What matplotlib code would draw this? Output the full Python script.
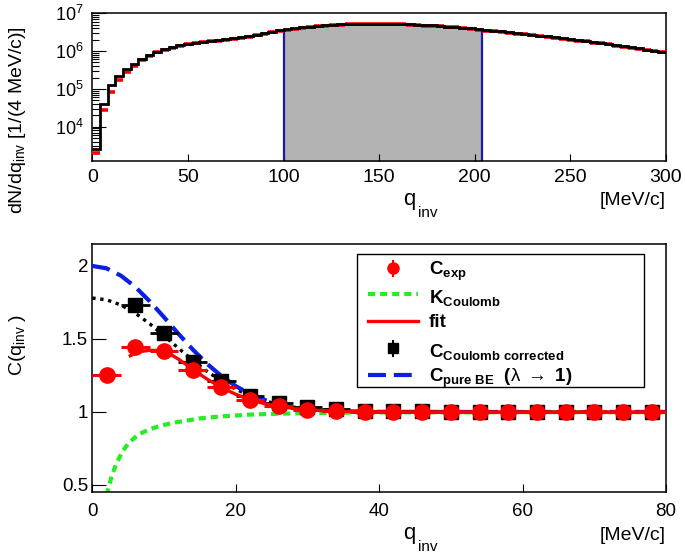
import numpy as np
import matplotlib
matplotlib.use('Agg')
import matplotlib.pyplot as plt
from matplotlib.patches import Rectangle

plt.rcParams['font.family'] = ['Liberation Sans', 'DejaVu Sans']
plt.rcParams['mathtext.fontset'] = 'custom'
plt.rcParams['mathtext.rm'] = 'Liberation Sans'
plt.rcParams['mathtext.it'] = 'Liberation Sans:italic'
plt.rcParams['mathtext.bf'] = 'Liberation Sans:bold'

# ---------------- top panel data: dN/dq_inv, 4 MeV/c bins ----------------
bin_edges = np.arange(0, 304, 4)
log_counts_data = [3.40, 4.60, 5.10, 5.35, 5.52, 5.66, 5.78, 5.89, 5.98, 6.05,
                   6.10, 6.15, 6.20, 6.22, 6.25, 6.27, 6.29, 6.31, 6.34,
                   6.37, 6.40, 6.43, 6.47, 6.51, 6.55, 6.58, 6.61, 6.63, 6.65,
                   6.67, 6.69, 6.70, 6.71, 6.72, 6.725, 6.73, 6.73, 6.73, 6.73,
                   6.725, 6.72, 6.71, 6.70, 6.69, 6.68, 6.67, 6.65, 6.64, 6.62,
                   6.60, 6.58, 6.56, 6.54, 6.52, 6.50, 6.48, 6.46, 6.43, 6.41,
                   6.39, 6.37, 6.34, 6.32, 6.29, 6.27, 6.24, 6.22, 6.19, 6.16,
                   6.13, 6.10, 6.07, 6.04, 6.01, 5.98]
log_counts_red = [3.30, 4.44, 4.93, 5.24, 5.45, 5.61, 5.765, 5.875, 5.965, 6.035,
                  6.085, 6.135, 6.185, 6.205, 6.235, 6.255, 6.275, 6.295, 6.325,
                  6.355, 6.385, 6.415, 6.455, 6.495, 6.535, 6.565, 6.595, 6.615, 6.635,
                  6.655, 6.675, 6.685, 6.695, 6.705, 6.71, 6.715, 6.715, 6.715, 6.715,
                  6.71, 6.705, 6.695, 6.685, 6.675, 6.665, 6.655, 6.635, 6.625, 6.605,
                  6.585, 6.565, 6.545, 6.525, 6.505, 6.485, 6.465, 6.445, 6.415, 6.395,
                  6.375, 6.355, 6.325, 6.305, 6.275, 6.255, 6.225, 6.205, 6.175, 6.145,
                  6.115, 6.085, 6.055, 6.025, 5.995, 5.965]
band_range = (100, 204)

# ---------------- bottom panel data ----------------
q_exp = np.arange(2, 80, 4)
c_exp = [1.254, 1.448, 1.415, 1.289, 1.170, 1.084, 1.038, 1.014, 1.004, 1.001,
         1.000, 0.999, 1.000, 1.000, 0.999, 1.000, 1.000, 0.999, 1.000, 1.000]
q_corr = np.arange(6, 80, 4)
c_corr = [1.732, 1.539, 1.345, 1.209, 1.106, 1.061, 1.036, 1.020, 1.010, 1.006,
          1.004, 1.002, 1.002, 1.001, 1.001, 1.000, 1.000, 1.000, 1.000]

q_k = [2.0, 2.2, 2.7, 3.3, 4.1, 5.0, 6.4, 8.0, 9.7, 11.5, 13.4, 15.0, 18.0,
       22.0, 26.0, 30.0, 35.0, 40.0, 50.0, 60.0, 80.0]
k_coulomb = [0.43, 0.47, 0.56, 0.64, 0.72, 0.785, 0.845, 0.882, 0.908, 0.928,
             0.943, 0.956, 0.970, 0.982, 0.988, 0.992, 0.995, 0.997, 0.998,
             0.999, 1.000]

q_fit = [5.3, 6, 7, 8, 9, 10, 11, 12, 13, 14, 16, 18, 20, 22, 24, 26, 28, 30,
         32, 34, 36, 40, 50, 80]
c_fit = [1.385, 1.403, 1.416, 1.422, 1.421, 1.414, 1.392, 1.362, 1.328, 1.292,
         1.225, 1.168, 1.121, 1.084, 1.057, 1.038, 1.024, 1.015, 1.009, 1.005,
         1.003, 1.001, 1.000, 1.000]

q_curve = [0, 2, 4, 6, 8, 10, 12, 14, 16, 18, 20, 22, 24, 26, 28, 30, 32, 34,
           36, 40, 50, 80]
c_corr_fit = [1.780, 1.768, 1.732, 1.676, 1.604, 1.522, 1.437, 1.354, 1.278,
              1.211, 1.156, 1.111, 1.077, 1.051, 1.033, 1.020, 1.012, 1.007,
              1.004, 1.001, 1.000, 1.000]
c_pure_be = [2.000, 1.983, 1.933, 1.856, 1.758, 1.649, 1.536, 1.428, 1.330,
             1.246, 1.177, 1.123, 1.083, 1.054, 1.034, 1.020, 1.012, 1.007,
             1.004, 1.001, 1.000, 1.000]

# ---------------- figure ----------------
W, H = 685, 556
fig = plt.figure(figsize=(W / 100, H / 100), dpi=100)


def rect(l, t, r, b):
    return [l / W, 1 - b / H, (r - l) / W, (b - t) / H]


ax1 = fig.add_axes(rect(92.3, 13.3, 666, 161))
ax2 = fig.add_axes(rect(92.3, 244, 666, 492))

counts = 10 ** np.array(log_counts_data)
counts_red = 10 ** np.array(log_counts_red)
ymin_top = 1.24e3

# shaded band
i0 = int(np.searchsorted(bin_edges, band_range[0]))
i1 = int(np.searchsorted(bin_edges, band_range[1]))
xb = bin_edges[i0:i1 + 1]
yb = np.append(counts[i0:i1], counts[i1 - 1])
ax1.fill_between(xb, yb, 1e2, step='post', color='#b3b3b3', lw=0, zorder=1)
ax1.vlines([band_range[0], band_range[1]], 1e2,
           [max(counts[i0], counts[i0 - 1]), max(counts[i1 - 1], counts[i1])],
           color='#1a1aa6', lw=1.6, zorder=2)
ax1.hlines(counts_red, bin_edges[:-1], bin_edges[1:], color='#ff0000', lw=2.6,
           zorder=3)
ax1.stairs(counts, bin_edges, baseline=None, color='black', lw=2.0, zorder=4)
ax1.set_yscale('log')
ax1.set_xlim(0, 300)
ax1.set_ylim(ymin_top, 1e7)
ax1.set_xticks([0, 50, 100, 150, 200, 250, 300])
ax1.tick_params(axis='both', which='both', direction='in', top=False,
                right=False, width=0.8)
ax1.tick_params(axis='y', which='major', length=10, labelsize=13, pad=6)
ax1.tick_params(axis='y', which='minor', length=5)
ax1.tick_params(axis='x', which='major', length=5, labelsize=14, pad=6)

# bottom panel
ax2.plot(q_k, k_coulomb, color='#22ee22', lw=3.0, dashes=(1.7, 1.2), zorder=2)
ax2.plot(q_curve, c_corr_fit, color='black', lw=2.4, dashes=(1.0, 1.4), zorder=3)
ax2.plot(q_curve, c_pure_be, color='#0a1ee6', lw=3.0, dashes=(4.3, 1.9), zorder=3)
ax2.errorbar(q_corr, c_corr, xerr=2, fmt='s', color='black', ms=9.5,
             elinewidth=2.0, capsize=0, zorder=4)
ax2.plot(q_fit, c_fit, color='#ff0000', lw=2.4, zorder=5)
ax2.errorbar(q_exp, c_exp, xerr=2, fmt='o', color='#ff0000', ms=11,
             elinewidth=2.2, capsize=0, zorder=6)
ax2.set_xlim(0, 80)
ax2.set_ylim(0.452, 2.15)
ax2.set_xticks([0, 20, 40, 60, 80])
ax2.set_yticks([0.5, 1, 1.5, 2])
ax2.set_yticklabels(['0.5', '1', '1.5', '2'])
ax2.tick_params(axis='both', direction='in', top=False, right=False, width=0.8,
                labelsize=13.5)
ax2.tick_params(axis='y', length=10, pad=3)
ax2.tick_params(axis='x', length=6, pad=8)

for ax in (ax1, ax2):
    for s in ax.spines.values():
        s.set_linewidth(1.1)

# legend (drawn by hand to mimic ROOT TLegend)
T = ax2.transAxes


def fx(px):
    return (px - 92.3) / 573.5


def fy(py):
    return (492 - py) / 248


ax2.add_patch(Rectangle((fx(357), fy(387)), fx(644) - fx(357), fy(254) - fy(387),
                        transform=T, fill=True, facecolor='white',
                        edgecolor='black', lw=1.0, zorder=10))
hx0, hx1, hxc = fx(368), fx(418), fx(393)
ax2.plot([hxc], [fy(268.3)], 'o', color='#ff0000', ms=8, transform=T, zorder=11)
ax2.plot([hxc, hxc], [fy(261), fy(276)], color='#ff0000', lw=1.5, transform=T, zorder=11)
ax2.plot([hx0, hx1], [fy(294)] * 2, color='#22ee22', lw=3.0, dashes=(1.7, 1.2),
         transform=T, zorder=11)
ax2.plot([hx0, hx1], [fy(320.7)] * 2, color='#ff0000', lw=2.4, transform=T, zorder=11)
ax2.plot([hxc], [fy(348.3)], 's', color='black', ms=7, transform=T, zorder=11)
ax2.plot([hxc, hxc], [fy(341), fy(356)], color='black', lw=1.5, transform=T, zorder=11)
ax2.plot([hx0, hx1], [fy(375)] * 2, color='#0a1ee6', lw=3.0, dashes=(4.3, 1.9),
         transform=T, zorder=11)

tx = fx(429)
lkw = dict(transform=T, fontsize=13.5, fontweight='bold', va='baseline',
           ha='left', zorder=12)
ax2.text(tx, fy(275), r'$\mathbf{C}_{\mathbf{exp}}$', **lkw)
ax2.text(tx, fy(303.3), r'$\mathbf{K}_{\mathbf{Coulomb}}$', **lkw)
ax2.text(tx, fy(327.3), 'fit', **lkw)
ax2.text(tx, fy(357.3), r'$\mathbf{C}_{\mathbf{Coulomb\ corrected}}$', **lkw)
ax2.text(tx, fy(381.7), r'$\mathbf{C}_{\mathbf{pure\ BE}}$  ($\mathrm{\lambda}\ \rightarrow$ 1)', **lkw)

# axis titles
fig.text(18 / W, 1 - 120 / H, r'dN/dq$_{\mathrm{inv}}$ [1/(4 MeV/c)]', rotation=90,
         ha='center', va='center', fontsize=14)
fig.text(18 / W, 1 - 345 / H, r'C(q$_{\mathrm{inv}}$ )', rotation=90,
         ha='center', va='center', fontsize=14)

fig.text(403 / W, 1 - 205 / H, 'q', fontsize=16, ha='left', va='baseline')
fig.text(418 / W, 1 - 217 / H, 'inv', fontsize=11, ha='left', va='baseline')
fig.text(666 / W, 1 - 205 / H, '[MeV/c]', fontsize=14, ha='right', va='baseline')

fig.text(403 / W, 1 - 539 / H, 'q', fontsize=16, ha='left', va='baseline')
fig.text(418 / W, 1 - 551 / H, 'inv', fontsize=11, ha='left', va='baseline')
fig.text(666 / W, 1 - 540 / H, '[MeV/c]', fontsize=14, ha='right', va='baseline')

fig.savefig('out.png', dpi=100)
